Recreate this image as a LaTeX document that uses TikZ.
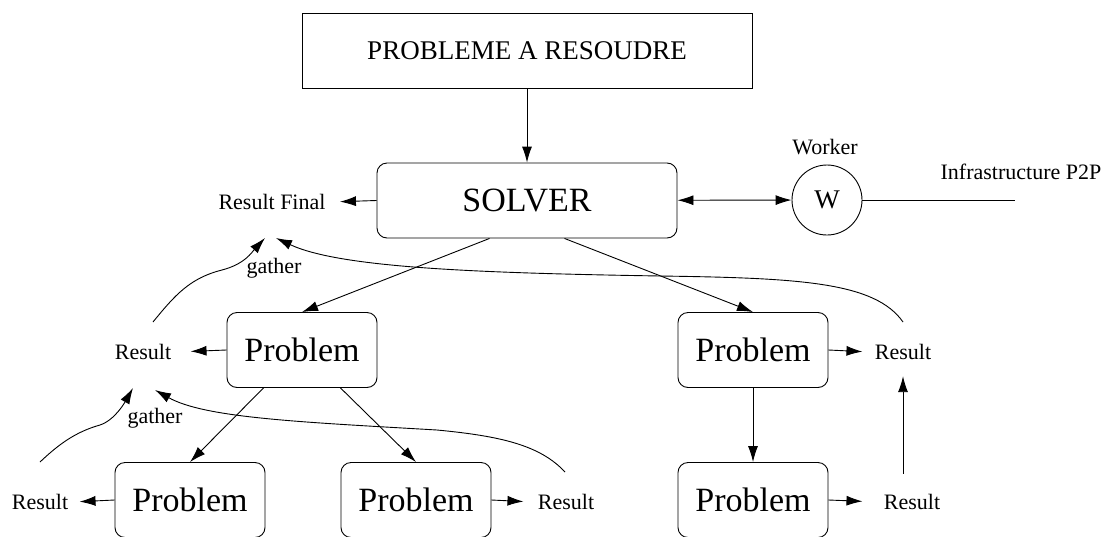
\documentclass[tikz,border=0pt]{standalone}
\usepackage{fontspec}
\setmainfont{Liberation Serif}
\usetikzlibrary{arrows.meta,shapes}

\begin{document}
\begin{tikzpicture}[x=1pt,y=-1pt,line width=0.9pt,
  arr/.style={-{Latex[length=16pt,width=10pt]}},
  arrs/.style={{Latex[length=16pt,width=10pt]}-{Latex[length=16pt,width=10pt]}},
  box/.style={draw,rounded corners=10pt,minimum width=150pt,minimum height=75pt,inner sep=0pt,font=\fontsize{34}{36}\selectfont},
  lbl/.style={inner sep=4pt,font=\fontsize{22}{24}\selectfont}]
  \useasboundingbox (0,0) rectangle (1111,536);
  % boxes
  \node[draw,minimum width=450pt,minimum height=75pt,font=\fontsize{27}{30}\selectfont] (pb) at (527,50.5) {PROBLEME A RESOUDRE};
  \node[box,minimum width=300pt] (solver) at (527,200.5) {SOLVER};
  \node[box] (pl) at (302,350) {Problem};
  \node[box] (pr) at (753,350) {Problem};
  \node[box] (pll) at (190,500) {Problem};
  \node[box] (plr) at (416,500) {Problem};
  \node[box] (prr) at (753,500) {Problem};
  \node[draw,circle,minimum size=70pt,inner sep=0pt,font=\fontsize{27}{29}\selectfont] (w) at (827,200) {W};
  % labels
  \node[lbl] (wl) at (825,147) {Worker};
  \node[lbl] (inf) at (1021,172) {Infrastructure P2P};
  \node[lbl] (rf) at (272,202) {Result Final};
  \node[lbl] (rl) at (143,352) {Result};
  \node[lbl] (rr1) at (903,352) {Result};
  \node[lbl] (rr2) at (912,502) {Result};
  \node[lbl] (rll) at (40,502) {Result};
  \node[lbl] (rlr) at (566,502) {Result};
  \node[lbl] (ga) at (274,268) {gather};
  \node[lbl] (gb) at (155,418) {gather};
  \coordinate (p2p) at (1015,200);
  \coordinate (tipA) at (265,238);
  \coordinate (tipB) at (276,238);
  \coordinate (tipC) at (133,388);
  \coordinate (tipD) at (155,390);
  \coordinate (fromRl) at (153,322);
  \coordinate (fromRr) at (903,322);
  \coordinate (fromRll) at (40,462);
  \coordinate (fromRlr) at (565,472);
  % tree
  \draw[arr] (pb) -- (solver);
  \draw[arr] ([xshift=-37.5pt]solver.south) -- (pl.north);
  \draw[arr] ([xshift=37.5pt]solver.south) -- (pr.north);
  \draw[arr] ([xshift=-38.5pt]pl.south) -- (pll.north);
  \draw[arr] ([xshift=38.5pt]pl.south) -- (plr.north);
  \draw[arr] (pr) -- (prr);
  \draw[arrs] (solver) -- (w);
  \draw (w) -- (p2p);
  % results
  \draw[arr,shorten >=10pt] (solver.west) -- (rf.east);
  \draw[arr,shorten >=15pt] (pl.west) -- (rl.east);
  \draw[arr,shorten >=8pt] (pr.east) -- (rr1.west);
  \draw[arr,shorten >=17pt] (prr.east) -- (rr2.west);
  \draw[arr,shorten >=7pt] (pll.west) -- (rll.east);
  \draw[arr,shorten >=10pt] (plr.east) -- (rlr.west);
  \draw[arr,shorten <=16pt,shorten >=12pt] (rr1 |- rr2.north) -- (rr1.south);
  % gather
  \draw[arr] (fromRl) .. controls (175,295) and (190,278) .. (222,270) .. controls (245,264) and (252,252) .. (tipA);
  \draw[arr] (fromRr) .. controls (875,282) and (800,278) .. (660,276) .. controls (480,273) and (340,268) .. (tipB);
  \draw[arr] (fromRll) .. controls (58,445) and (75,432) .. (100,425) .. controls (115,420) and (125,402) .. (tipC);
  \draw[arr] (fromRlr) .. controls (540,445) and (500,436) .. (437,430) .. controls (300,422) and (205,418) .. (tipD);
\end{tikzpicture}
\end{document}
